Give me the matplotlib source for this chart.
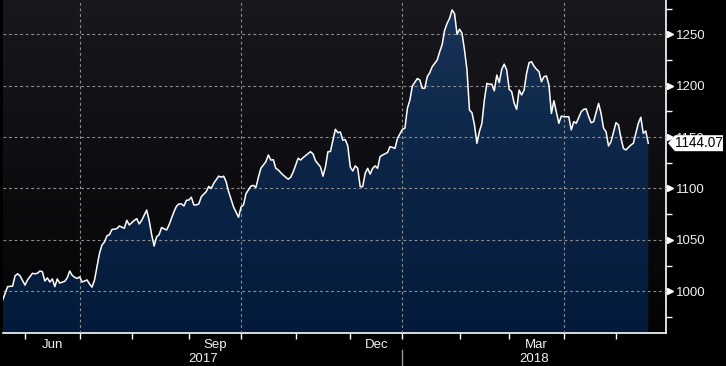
import numpy as np
import pandas as pd
import matplotlib
matplotlib.use("Agg")
from matplotlib import pyplot as plt
from matplotlib.patches import Polygon
from matplotlib.lines import Line2D
from matplotlib.colors import LinearSegmentedColormap
import matplotlib.transforms as mtransforms

plt.rcParams['font.family'] = ['Liberation Sans', 'DejaVu Sans']

# weekday sessions, 2017-05-19 .. 2018-05-18
START = "2017-05-19"
END = "2018-05-18"

# session index (weekdays since START) and index level
sessions = [0, 2, 4, 5, 6, 7, 9, 10, 12, 13, 14, 15, 16, 17, 18, 19, 20, 21, 22, 23,
            25, 26, 27, 28, 29, 30, 31, 32, 34, 35, 36, 37, 38, 39, 40, 41, 42, 43, 44, 46,
            47, 49, 50, 51, 53, 54, 55, 56, 58, 59, 60, 61, 62, 63, 64, 66, 67, 68, 69, 70,
            71, 72, 73, 74, 75, 76, 77, 78, 79, 80, 82, 83, 84, 85, 87, 88, 89, 90, 91, 93,
            94, 95, 96, 97, 98, 100, 101, 102, 103, 104, 106, 107, 108, 109, 110, 111, 112, 113, 115, 116,
            117, 119, 120, 121, 123, 124, 125, 126, 128, 129, 130, 131, 132, 133, 134, 135, 136, 137, 138, 139,
            140, 141, 142, 143, 144, 145, 146, 147, 148, 149, 150, 151, 152, 153, 155, 156, 157, 158, 159, 161,
            162, 163, 164, 165, 167, 168, 169, 170, 171, 172, 173, 175, 176, 177, 178, 179, 180, 181, 182, 183,
            184, 185, 186, 187, 188, 189, 190, 191, 192, 193, 194, 195, 196, 197, 198, 199, 200, 201, 202, 203,
            204, 205, 206, 207, 208, 209, 210, 211, 212, 213, 214, 215, 216, 217, 218, 219, 220, 221, 222, 224,
            225, 226, 228, 229, 230, 231, 233, 234, 235, 236, 237, 238, 240, 241, 242, 243, 244, 245, 247, 248,
            249, 250, 251, 253, 254, 256, 257, 258, 259, 260]
values = [991.5, 1004.5, 1005, 1015, 1017, 1015, 1006, 1011, 1017.5, 1017, 1017.5, 1019.7, 1019, 1010, 1013, 1009, 1012, 1004.5, 1012, 1008,
          1009.7, 1013, 1019.7, 1015.5, 1013.6, 1012.5, 1014, 1009, 1011, 1007, 1004, 1011, 1024, 1037, 1045, 1048, 1054, 1055, 1060, 1061,
          1063.5, 1061.3, 1069, 1064.5, 1069, 1070.6, 1065.5, 1069, 1079, 1069, 1055, 1044, 1053, 1055, 1062, 1059.6, 1064.5, 1071, 1077.5, 1082.7,
          1085, 1085, 1083, 1088.5, 1088.8, 1091.5, 1084, 1084, 1085, 1092, 1097, 1102, 1100, 1105, 1112, 1111, 1112, 1106.6, 1097, 1082,
          1077, 1072, 1082, 1084, 1095, 1102.4, 1103, 1101, 1111, 1119.7, 1126, 1132.6, 1127.7, 1128, 1119.7, 1118, 1115.4, 1113, 1109, 1111,
          1116, 1129.4, 1127.7, 1130, 1134, 1135.8, 1133.6, 1127, 1121, 1112, 1121, 1135.8, 1136, 1147, 1157.6, 1154.3, 1155, 1147, 1147.5, 1141.4,
          1121, 1117, 1122, 1119.6, 1101.8, 1101.8, 1114.8, 1119.6, 1114, 1119.6, 1122, 1119.6, 1131, 1132.6, 1135, 1140.7, 1140, 1139, 1148.8, 1157.6,
          1158.6, 1178, 1186, 1199.7, 1207, 1205.6, 1197.5, 1197.5, 1208.8, 1212.7, 1218.5, 1225, 1233, 1240, 1254, 1260.7, 1265.6, 1273.7, 1270, 1250,
          1255, 1251, 1234.8, 1215.3, 1176.4, 1173.7, 1162, 1144, 1155.3, 1163.4, 1186, 1202.3, 1201.5, 1201.5, 1195, 1210.4, 1203, 1216, 1221, 1215.3,
          1196.5, 1194.2, 1183, 1177, 1195.8, 1191, 1195.8, 1212, 1222.4, 1223.4, 1219, 1216, 1213.7, 1203.9, 1208.8, 1209.5, 1200.7, 1173, 1185.4, 1163.4,
          1170.5, 1169.8, 1169.8, 1157, 1165, 1163.4, 1174.7, 1177, 1177.5, 1170, 1164, 1165, 1182.8, 1173, 1158.6, 1155.3, 1141.4, 1145.5, 1164, 1162,
          1149, 1139, 1137.5, 1142.3, 1144, 1163.4, 1169.3, 1153.7, 1156, 1144.07]
last_value = 1144.07

y_major = [1000, 1050, 1100, 1150, 1200, 1250]
y_minor = [975, 1025, 1075, 1125, 1175, 1225, 1275]
month_names = {6: "Jun", 9: "Sep", 12: "Dec", 3: "Mar"}
grid_months = [7, 10, 1, 4]

days = pd.bdate_range(START, END)
x = np.array(sessions, dtype=float)
y = np.array(values)

W, H = 726, 366
fig = plt.figure(figsize=(W / 100, H / 100), dpi=100, facecolor='black')
ax = fig.add_axes([3 / W, 33 / H, 663 / W, 333 / H])
ax.set_facecolor('black')
x0, x1 = 0.14, 267.15
ylo, yhi = 959.4, 1283.4

# background gradient
bg = LinearSegmentedColormap.from_list('bg', ['#040406', '#0e0e12', '#18181d'])
ax.imshow(np.linspace(0, 1, 256).reshape(-1, 1), cmap=bg, origin='lower',
          extent=[x0, x1, ylo, yhi], aspect='auto', zorder=0, interpolation='bicubic')

# gradient area under the line
fc = LinearSegmentedColormap.from_list('fc', ['#041a3b', '#0c2547', '#173357'])
top = y.max()
grad = ax.imshow(np.linspace(0, 1, 256).reshape(-1, 1), cmap=fc, origin='lower',
                 extent=[x0, x1, ylo, top], aspect='auto', zorder=1, interpolation='bicubic')
verts = [(x[0], ylo)] + list(zip(x, y)) + [(x[-1], ylo)]
clip = Polygon(verts, closed=True, facecolor='none', edgecolor='none', transform=ax.transData)
ax.add_patch(clip)
grad.set_clip_path(clip)

ax.plot(x, y, color='white', lw=1.1, zorder=4)

ax.set_xlim(x0, x1)
ax.set_ylim(ylo, yhi)

# month positions
month_start = []
for i in range(1, len(days)):
    if days[i].month != days[i - 1].month:
        month_start.append(i)

gcol = '#8e8e8e'
dash = (0, (2.5, 2.5))
for v in y_major:
    ax.axhline(v, color=gcol, lw=0.8, ls=dash, zorder=3)
for i in month_start:
    if days[i].month in grid_months:
        ax.axvline(i, color=gcol, lw=0.8, ls=dash, zorder=3)

ax.set_xticks(month_start)
ax.set_xticklabels([])
mid, lab = [], []
for k in range(len(month_start) - 1):
    m = days[month_start[k]].month
    if m in month_names:
        mid.append((month_start[k] + month_start[k + 1]) / 2)
        lab.append(month_names[m])
ax.set_xticks(mid, minor=True)
ax.set_xticklabels(lab, minor=True)
ax.tick_params(axis='x', which='major', length=4, width=1, color='white', direction='out')
ax.tick_params(axis='x', which='minor', length=0, pad=4, labelsize=9.5, labelcolor='#eef2f6')

ax.yaxis.tick_right()
ax.set_yticks(y_major)
ax.set_yticks(y_minor, minor=True)
ax.tick_params(axis='y', which='major', length=0, pad=7, labelsize=9.5, labelcolor='#eef2f6')
ax.tick_params(axis='y', which='minor', length=4, width=1, color='white', direction='out')

for s in ['top', 'left']:
    ax.spines[s].set_visible(False)
for s in ['bottom', 'right']:
    ax.spines[s].set_color('white')
    ax.spines[s].set_linewidth(1.2)

# triangle markers on the value axis
tri = mtransforms.offset_copy(mtransforms.blended_transform_factory(ax.transAxes, ax.transData),
                              fig=fig, x=4, y=0, units='dots')
ax.plot([1.0] * len(y_major), y_major, ls='none', marker='>', ms=5, color='white',
        transform=tri, clip_on=False, zorder=5)

# last value tag (covers the 1150 label, as in the original)
to_fig = ax.transData + fig.transFigure.inverted()
_, yc = to_fig.transform((0, last_value))
ax_right = ax.get_position().x1
hx, hy = 1 / W, 1 / H
tag = Polygon([(ax_right + 2 * hx, yc), (ax_right + 9 * hx, yc + 8 * hy), (ax_right + 57 * hx, yc + 8 * hy),
               (ax_right + 57 * hx, yc - 8 * hy), (ax_right + 9 * hx, yc - 8 * hy)],
              closed=True, facecolor='white', edgecolor='none', transform=fig.transFigure, zorder=10)
fig.add_artist(tag)
fig.text(ax_right + 9 * hx, yc, f"{last_value:.2f}", color='black', fontsize=9.8,
         ha='left', va='center', zorder=11)

# year labels and separator
ax_left = ax.get_position().x0
jan_idx = [i for i in month_start if days[i].month == 1][0]
xj, _ = to_fig.transform((jan_idx, ylo))
fig.text((ax_left + xj) / 2, 7 * hy, str(days[0].year), color='#eef2f6', fontsize=9.5,
         ha='center', va='center')
fig.text((xj + ax_right) / 2, 7 * hy, str(days[-1].year), color='#eef2f6', fontsize=9.5,
         ha='center', va='center')
fig.add_artist(Line2D([xj, xj], [0, 16 * hy], color='#9a9a9a', lw=1, transform=fig.transFigure))

fig.savefig('out.png', dpi=100, facecolor='black')
